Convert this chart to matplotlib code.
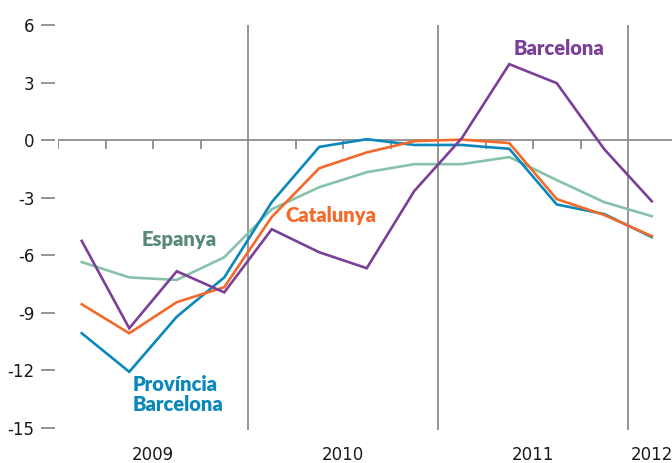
import matplotlib
matplotlib.use("Agg")
import matplotlib.pyplot as plt

quarters = ["2009T1", "2009T2", "2009T3", "2009T4",
            "2010T1", "2010T2", "2010T3", "2010T4",
            "2011T1", "2011T2", "2011T3", "2011T4",
            "2012T1"]
espanya = [-6.35, -7.15, -7.28, -6.1, -3.6, -2.45, -1.67, -1.25, -1.25, -0.88, -2.08, -3.23, -3.96]
catalunya = [-8.55, -10.06, -8.44, -7.66, -4.0, -1.46, -0.64, -0.05, 0.03, -0.15, -3.07, -3.9, -5.0]
provincia = [-10.06, -12.07, -9.2, -7.15, -3.23, -0.35, 0.05, -0.25, -0.25, -0.45, -3.35, -3.85, -5.05]
barcelona = [-5.25, -9.8, -6.83, -7.93, -4.64, -5.84, -6.67, -2.65, 0.1, 3.96, 2.97, -0.47, -3.18]
years = ["2009", "2010", "2011", "2012"]
yticks = [6, 3, 0, -3, -6, -9, -12, -15]

c_esp_line = "#86c2a9"
c_esp_text = "#5a8a77"
c_cat = "#f26a2a"
c_prov = "#0a88bb"
c_bcn = "#7c3f98"
grid_c = "#8c8c8c"

W, H = 672, 463
fig = plt.figure(figsize=(W / 100, H / 100), dpi=100)
left, right = 58, 672
top, bottom = 25, 430
ax = fig.add_axes([left / W, 1 - bottom / H, (right - left) / W, (bottom - top) / H])

x = list(range(len(quarters)))
ax.set_xlim(-0.5, -0.5 + (right - left) / 47.5)
ax.set_ylim(-15.1, 6.0)

for s in ax.spines.values():
    s.set_color('none')
ax.spines['left'].set_position(('outward', 2))

# zero line and quarter ticks
ax.axhline(0, color=grid_c, lw=1.3, zorder=1)
for k in range(len(quarters)):
    xb = k - 0.5
    if k % 4 == 0 and k > 0:
        ax.vlines(xb, -15.1, 6.0, color=grid_c, lw=1.3, zorder=1)
    else:
        ax.plot([xb, xb], [0, -0.45], color=grid_c, lw=1.3, zorder=1, solid_capstyle='butt')

lw = 1.9
ax.plot(x, espanya, color=c_esp_line, lw=lw, zorder=3, solid_joinstyle='miter')
ax.plot(x, provincia, color=c_prov, lw=lw, zorder=4, solid_joinstyle='miter')
ax.plot(x, catalunya, color=c_cat, lw=lw, zorder=5, solid_joinstyle='miter')
ax.plot(x, barcelona, color=c_bcn, lw=lw, zorder=6, solid_joinstyle='miter')

ax.set_yticks(yticks)
ax.set_yticklabels([str(v) for v in yticks])
ax.tick_params(axis='y', length=10, width=1.3, color=grid_c, pad=5, labelsize=12, labelcolor="#1a1a1a")
ax.set_xticks([])

year_pos = [1.5, 5.5, 9.5, 12]
for yp, lab in zip(year_pos, years):
    ax.text(yp, -16.4, lab, ha='center', va='center', fontsize=12, color="#1a1a1a", clip_on=False)

lf = dict(fontfamily="Lato", fontweight="heavy", fontsize=14.5)
ax.text(10.04, 4.75, "Barcelona", color=c_bcn, ha='center', va='center', **lf)
ax.text(5.24, -3.95, "Catalunya", color=c_cat, ha='center', va='center', **lf)
ax.text(2.06, -5.15, "Espanya", color=c_esp_text, ha='center', va='center', **lf)
ax.text(1.07, -13.25, "Província\nBarcelona", color=c_prov, ha='left', va='center',
        linespacing=1.08, **lf)

fig.savefig("out.png", dpi=100)
